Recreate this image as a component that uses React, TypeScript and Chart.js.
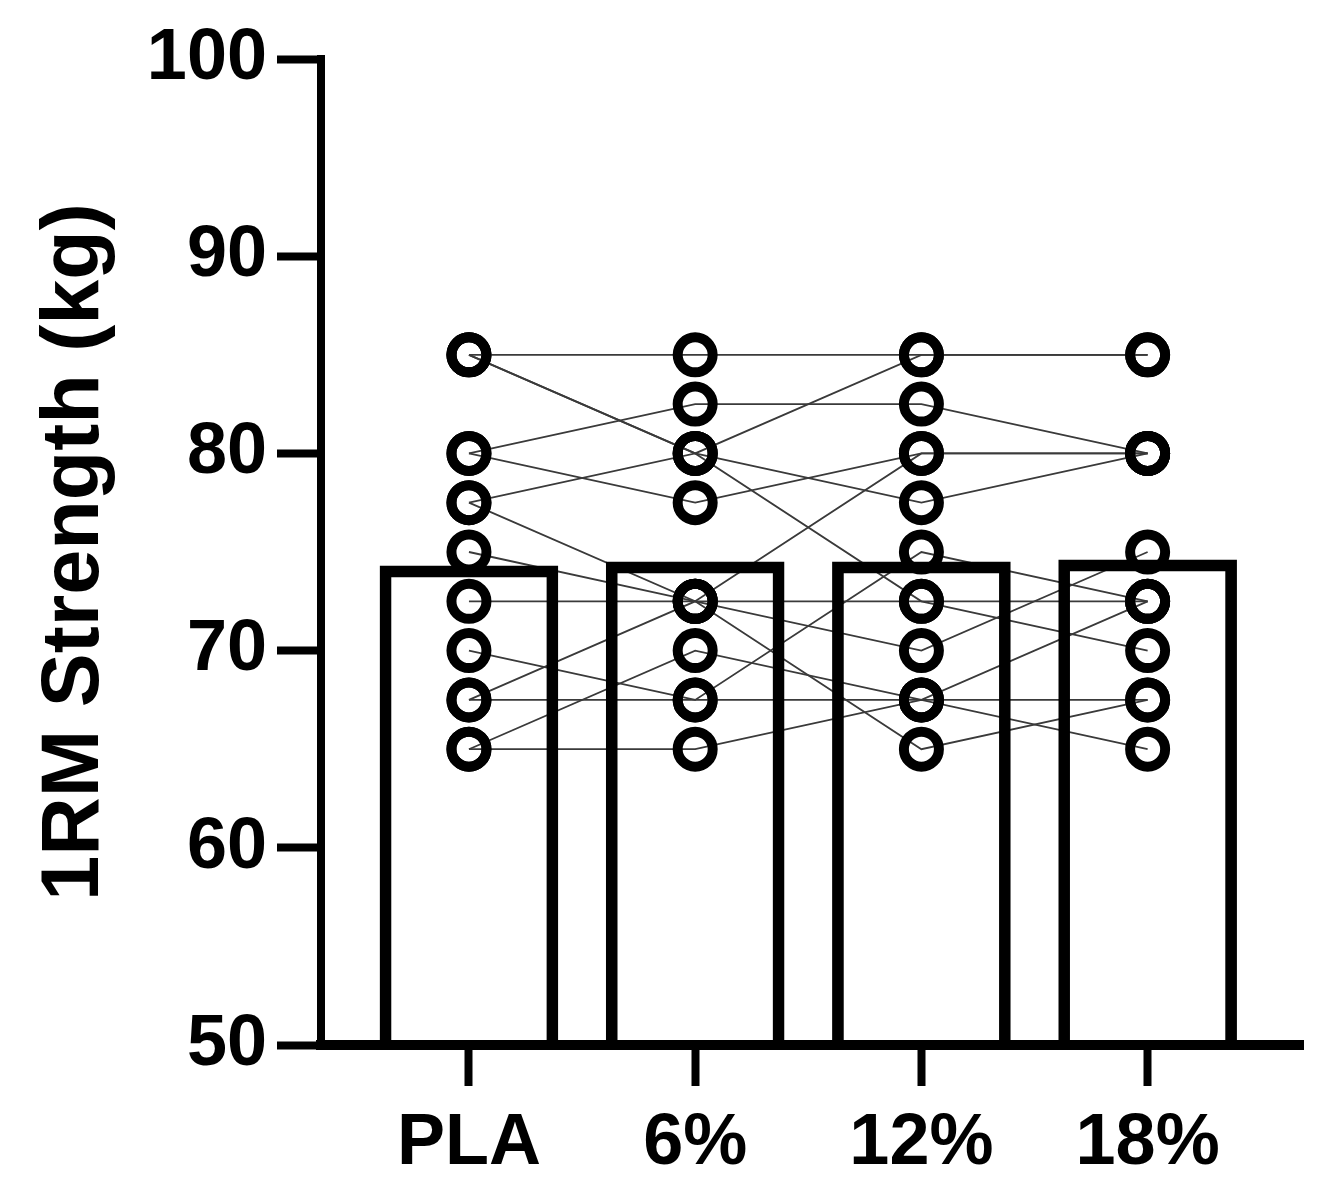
import { useEffect, useRef } from "react"
import { Chart, registerables } from "chart.js"

Chart.register(...registerables)

const categories = ["PLA", "6%", "12%", "18%"]

// bar heights (group means)
const means = [74.3, 74.5, 74.5, 74.6]

// one row per participant: PLA, 6%, 12%, 18%
const subjects = [
  [85, 85, 85, 85],
  [85, 80, 85, 85],
  [85, 80, 77.5, 80],
  [80, 82.5, 82.5, 80],
  [80, 77.5, 80, 80],
  [77.5, 80, 72.5, 70],
  [77.5, 72.5, 80, 80],
  [75, 72.5, 72.5, 72.5],
  [72.5, 72.5, 70, 75],
  [67.5, 72.5, 65, 67.5],
  [70, 67.5, 67.5, 72.5],
  [67.5, 67.5, 75, 72.5],
  [65, 70, 67.5, 67.5],
  [65, 65, 67.5, 65],
]

const yTicks = [50, 60, 70, 80, 90, 100]

const FONT = "'Liberation Sans', Arial, Helvetica, sans-serif"

const App = () => {
  const canvasRef = useRef<HTMLCanvasElement | null>(null)

  useEffect(() => {
    // no margin, no scrollbar: the chart gets the full window
    document.body.style.margin = "0"
    document.body.style.overflow = "hidden"
    document.documentElement.style.overflow = "hidden"
    if (!canvasRef.current) return

    const chartInstance = new Chart(canvasRef.current, {
      type: "bar",
      data: {
        datasets: [
          {
            type: "bar",
            data: means.map((m, i) => ({ x: i, y: m })),
            backgroundColor: "rgba(0,0,0,0)",
            borderColor: "#000",
            borderWidth: 11,
            barThickness: 178,
            order: 0,
          },
          ...subjects.map((s) => ({
            type: "line" as const,
            data: s.map((v, i) => ({ x: i, y: v })),
            borderColor: "#3a3a3a",
            borderWidth: 1.8,
            pointRadius: 17.5,
            pointBorderWidth: 10,
            pointBorderColor: "#000",
            pointBackgroundColor: "rgba(0,0,0,0)",
            fill: false,
            tension: 0,
            order: 1,
          })),
        ] as any,
      },
      options: {
        animation: false,
        responsive: true,
        maintainAspectRatio: false,
        layout: { padding: { top: 59, right: 21, left: 0, bottom: 0 } },
        plugins: { legend: { display: false }, tooltip: { enabled: false } },
        scales: {
          x: {
            type: "linear",
            offset: false,
            min: -0.654,
            max: 3.689,
            afterBuildTicks: (scale: any) => {
              scale.ticks = categories.map((_, i) => ({ value: i }))
            },
            afterFit: (scale: any) => {
              scale.height = 158
              scale.paddingLeft = 0
              scale.paddingRight = 0
            },
            ticks: {
              callback: (value: any) => categories[value as number] ?? "",
              color: "#000",
              font: { family: FONT, weight: "bold", size: 72 },
              padding: 15,
              maxRotation: 0,
              autoSkip: false,
            },
            grid: {
              offset: false,
              drawOnChartArea: false,
              drawTicks: true,
              tickLength: 41,
              tickWidth: 8,
              tickColor: "#000",
            },
            border: { display: true, color: "#000", width: 10 },
          },
          y: {
            min: 50,
            max: 100,
            afterBuildTicks: (scale: any) => {
              scale.ticks = yTicks.map((v) => ({ value: v }))
            },
            afterFit: (scale: any) => {
              scale.width = 321
            },
            ticks: {
              color: "#000",
              font: { family: FONT, weight: "bold", size: 72 },
              padding: 10,
            },
            grid: {
              drawOnChartArea: false,
              drawTicks: true,
              tickLength: 44,
              tickWidth: 8,
              tickColor: "#000",
            },
            border: { display: true, color: "#000", width: 8 },
            title: {
              display: true,
              text: "1RM Strength (kg)",
              color: "#000",
              font: { family: FONT, weight: "bold", size: 81, lineHeight: 1 },
              padding: { top: 35, bottom: 0 },
            },
          },
        },
      },
    })

    return () => {
      chartInstance.destroy()
    }
  }, [])

  return (
    <div style={{ width: 1331, height: 1203, position: "relative" }}>
      <canvas ref={canvasRef} />
    </div>
  )
}

export default App
